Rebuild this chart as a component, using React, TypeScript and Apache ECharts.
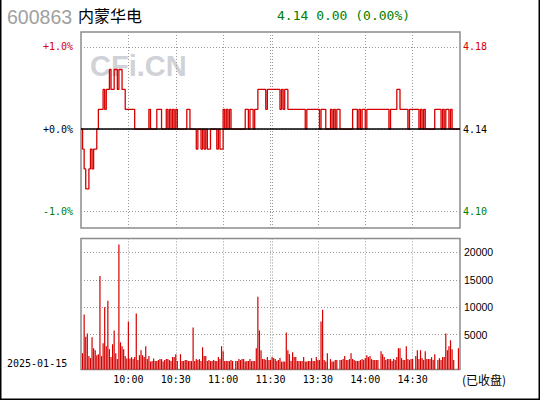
import React, { useEffect, useRef } from "react";
import * as echarts from "echarts";

const stockCode = "600863";
const stockName = "内蒙华电";
const tradeDate = "2025-01-15";
const statusText = "(已收盘)";
const watermarkText = "CFi.CN";
const prevClose = 4.14;
const lastPrice = 4.14;
const priceChange = 0.0;
const changePct = 0.0;

const pctTicks = [-1, 0, 1];
const volumeTicks = [5000, 10000, 15000, 20000];
const timeTickLabels = ["10:00", "10:30", "11:00", "11:30", "13:30", "14:00", "14:30"];

// one price per minute, 9:30-11:30 then 13:01-15:00
const prices = [
  4.14, 4.13, 4.12, 4.11, 4.11, 4.12, 4.13, 4.12, 4.13, 4.13,
  4.14, 4.15, 4.15, 4.15, 4.16, 4.15, 4.16, 4.16, 4.17, 4.16,
  4.16, 4.17, 4.17, 4.16, 4.17, 4.17, 4.16, 4.16, 4.15, 4.15,
  4.15, 4.15, 4.15, 4.15, 4.14, 4.14, 4.14, 4.14, 4.14, 4.14,
  4.14, 4.14, 4.14, 4.15, 4.14, 4.14, 4.14, 4.14, 4.15, 4.15,
  4.15, 4.14, 4.14, 4.14, 4.15, 4.14, 4.15, 4.14, 4.15, 4.14,
  4.15, 4.14, 4.14, 4.14, 4.14, 4.14, 4.14, 4.15, 4.15, 4.14,
  4.14, 4.14, 4.14, 4.13, 4.14, 4.14, 4.13, 4.14, 4.13, 4.14,
  4.13, 4.13, 4.14, 4.14, 4.14, 4.14, 4.13, 4.14, 4.13, 4.13,
  4.15, 4.14, 4.15, 4.14, 4.15, 4.14, 4.14, 4.14, 4.14, 4.14,
  4.14, 4.14, 4.14, 4.14, 4.15, 4.15, 4.14, 4.15, 4.15, 4.14,
  4.15, 4.15, 4.16, 4.16, 4.16, 4.16, 4.16, 4.15, 4.16, 4.16,
  4.16, 4.16, 4.16, 4.16, 4.16, 4.16, 4.15, 4.16, 4.15, 4.16,
  4.16, 4.15, 4.15, 4.15, 4.15, 4.15, 4.15, 4.15, 4.15, 4.15,
  4.15, 4.15, 4.14, 4.15, 4.15, 4.15, 4.15, 4.15, 4.15, 4.15,
  4.15, 4.14, 4.15, 4.15, 4.15, 4.14, 4.14, 4.14, 4.15, 4.14,
  4.15, 4.14, 4.15, 4.15, 4.14, 4.14, 4.14, 4.14, 4.14, 4.14,
  4.14, 4.14, 4.15, 4.15, 4.15, 4.14, 4.15, 4.14, 4.15, 4.15,
  4.14, 4.15, 4.15, 4.15, 4.15, 4.15, 4.15, 4.15, 4.15, 4.15,
  4.15, 4.15, 4.15, 4.15, 4.15, 4.14, 4.15, 4.15, 4.15, 4.15,
  4.16, 4.16, 4.15, 4.15, 4.15, 4.15, 4.15, 4.14, 4.15, 4.15,
  4.15, 4.15, 4.15, 4.15, 4.14, 4.15, 4.14, 4.15, 4.14, 4.14,
  4.14, 4.14, 4.14, 4.14, 4.15, 4.15, 4.15, 4.15, 4.14, 4.15,
  4.14, 4.15, 4.15, 4.14, 4.15, 4.14, 4.14, 4.14, 4.14, 4.14,
  4.14,
];

const volumes: (number | null)[] = [
  null, 1640, 8660, 4640, 5240, 1100, 740, 4520, 2540, 2180,
  1280, 1460, 15680, 1100, 3440, 9980, 2900, 11180, 2360, 920,
  3260, 5780, 1640, 560, 21440, 3620, 2900, 2360, 1100, 680,
  7400, 680, 920, 560, 920, 8840, 380, 1280, 2180, 1280,
  920, 2900, 560, 1100, 100, 200, 680, 200, 200, 380,
  560, 560, 100, 380, 560, 560, 380, 200, 920, 920,
  1460, 200, null, 1460, 200, 200, 380, 380, 200, 200,
  200, 6320, 200, 560, 380, 560, 200, 2720, 1100, 1100,
  200, 380, 200, 200, 380, 200, 200, 920, 560, 2900,
  2000, 200, 200, 200, 200, 380, 200, null, 200, 200,
  560, 380, 560, 560, 100, 200, 200, 560, 200, 200,
  200, 2540, 11900, 5780, 2180, 560, 560, 380, 920, 380,
  380, 920, 740, 560, 200, 380, 740, 100, 100, 100,
  5420, 2180, 1460, 200, 1820, 920, 920, 200, 200, 200,
  200, 920, 100, 100, 200, 200, 740, 200, 200, 920,
  380, 380, 7400, 9560, 380, 100, 1640, null, 560, 100,
  100, 380, 380, null, 380, 380, 560, 1100, 380, 380,
  560, 1640, 560, 380, 200, 200, 200, 380, 560, 380,
  740, 1280, 920, 1100, 560, 380, 380, 380, 380, null,
  2000, 1460, 920, 380, 560, 560, 560, 200, 560, 380,
  920, 2540, 2540, 740, 380, 380, 2900, 560, 380, 560,
  560, null, 1100, 2180, 560, 2180, 740, 380, 2000, 560,
  560, 560, 920, 380, 1460, null, 380, 740, 380, 920,
  920, 5240, 2180, 2900, 3980, 2360, 380, null, null, 2540,
  null,
];

function buildTimes(): string[] {
  const out: string[] = [];
  const add = (t: number) => out.push(`${Math.floor(t / 60)}:${String(t % 60).padStart(2, "0")}`);
  for (let t = 9 * 60 + 30; t <= 11 * 60 + 30; t++) add(t);
  for (let t = 13 * 60 + 1; t <= 15 * 60; t++) add(t);
  return out;
}

const RED = "#d40000";
const GREEN = "#008000";
const GRID_LINE = { color: "#9a9a9a", width: 1, type: [1, 2] as number[] };
const MONO = '"DejaVu Sans Mono", "Liberation Mono", monospace';

export default function App() {
  const ref = useRef<HTMLDivElement>(null);

  useEffect(() => {
    document.body.style.margin = "0";
    if (!ref.current) return;
    const chart = echarts.init(ref.current, undefined, { renderer: "svg" });
    const times = buildTimes();
    const pctMin = -1.2;
    const pctMax = 1.18;
    const labelSet = new Set(timeTickLabels);
    const splitFn = (_i: number, v: string) => labelSet.has(v) || v === "13:01";
    const labelFn = (_i: number, v: string) => labelSet.has(v);
    const pctColor = (v: any) => {
      const n = Number(v);
      return n > 0 ? RED : n < 0 ? GREEN : "#000";
    };
    const volumeData = volumes
      .map((v, i) => (v == null ? null : [i, v]))
      .filter((d) => d !== null);

    const option: any = {
      animation: false,
      backgroundColor: "#ffffff",
      grid: [
        { left: 81, right: 80, top: 32, height: 196, show: true, borderColor: "#8c8c8c", borderWidth: 1.5 },
        { left: 81, right: 80, top: 238.5, height: 131, show: true, borderColor: "#8c8c8c", borderWidth: 1.5 },
      ],
      xAxis: [
        {
          type: "category", gridIndex: 0, data: times, boundaryGap: false,
          axisLine: { show: false }, axisTick: { show: false }, axisLabel: { show: false },
          splitLine: { show: true, interval: splitFn, lineStyle: GRID_LINE },
        },
        {
          type: "category", gridIndex: 1, data: times, boundaryGap: false,
          axisLine: { show: false }, axisTick: { show: false },
          axisLabel: { show: true, interval: labelFn, fontFamily: MONO, fontSize: 10, color: "#000", margin: 5 },
          splitLine: { show: true, interval: splitFn, lineStyle: GRID_LINE },
        },
      ],
      yAxis: [
        {
          type: "value", gridIndex: 0, position: "left", min: pctMin, max: pctMax,
          axisLine: { show: false }, axisTick: { show: false, customValues: pctTicks },
          axisLabel: {
            customValues: pctTicks, fontFamily: MONO, fontSize: 10, margin: 8, color: pctColor,
            formatter: (v: number) => (v >= 0 ? "+" : "") + v.toFixed(1) + "%",
          },
          splitLine: { show: true, lineStyle: GRID_LINE },
        },
        {
          type: "value", gridIndex: 0, position: "right", min: pctMin, max: pctMax,
          axisLine: { show: false }, axisTick: { show: false, customValues: pctTicks },
          axisLabel: {
            customValues: pctTicks, fontFamily: MONO, fontSize: 10, margin: 3, color: pctColor,
            formatter: (v: number) => (prevClose * (1 + v / 100)).toFixed(2),
          },
          splitLine: { show: false },
        },
        {
          type: "value", gridIndex: 0, show: false,
          min: prevClose * (1 + pctMin / 100), max: prevClose * (1 + pctMax / 100),
          splitLine: { show: false },
        },
        {
          type: "value", gridIndex: 1, position: "right", min: -1335, max: 22510,
          axisLine: { show: false }, axisTick: { show: false, customValues: volumeTicks },
          axisLabel: {
            customValues: volumeTicks, fontFamily: '"Liberation Sans", Arial, sans-serif', fontSize: 10.5,
            color: "#000", margin: 4, formatter: (v: number) => String(v),
          },
          splitLine: { show: true, lineStyle: GRID_LINE },
        },
      ],
      series: [
        {
          type: "line", xAxisIndex: 0, yAxisIndex: 2, data: prices, step: "end",
          symbol: "none", lineStyle: { color: RED, width: 1.3 },
          markLine: {
            silent: true, symbol: "none", label: { show: false },
            lineStyle: { color: "#000", width: 1.5, type: "solid" },
            data: [{ yAxis: prevClose }],
          },
        },
        {
          type: "custom", xAxisIndex: 1, yAxisIndex: 3, data: volumeData,
          encode: { x: 0, y: 1 },
          renderItem: (params: any, api: any) => {
            const top = api.coord([api.value(0), api.value(1)]);
            const cs = params.coordSys;
            const bottom = cs.y + cs.height;
            return {
              type: "rect",
              shape: { x: top[0] - 0.6, y: top[1], width: 1.2, height: bottom - top[1] },
              style: { fill: RED },
            };
          },
        },
      ],
      graphic: [
        {
          type: "text", x: 90, y: 66, z: 0,
          style: { text: watermarkText, font: 'bold 29px "Liberation Sans", Arial, sans-serif', fill: "#cfd2d6", verticalAlign: "middle" },
        },
        {
          type: "text", x: 7, y: 16.5,
          style: { text: stockCode, font: '19.5px "Liberation Sans", Arial, sans-serif', fill: "#a0a0a0", verticalAlign: "middle" },
        },
        {
          type: "text", x: 78, y: 15,
          style: { text: stockName, font: '16px "Noto Sans CJK SC", sans-serif', fill: "#000", verticalAlign: "middle" },
        },
        {
          type: "text", x: 277, y: 15,
          style: {
            text: `${lastPrice.toFixed(2)} ${priceChange.toFixed(2)} (${changePct.toFixed(2)}%)`,
            font: `13px ${MONO}`, fill: GREEN, verticalAlign: "middle",
          },
        },
        {
          type: "text", x: 7, y: 363,
          style: { text: tradeDate, font: `10px ${MONO}`, fill: "#000", verticalAlign: "middle" },
        },
        {
          type: "text", x: 462, y: 379,
          style: { text: statusText, font: '12px "Noto Sans CJK SC", sans-serif', fill: "#000", verticalAlign: "middle" },
        },
        {
          type: "polyline",
          shape: { points: [[0.75, 0], [0.75, 399.25], [539.25, 399.25], [539.25, 0]] },
          style: { stroke: "#000", lineWidth: 1.5, fill: null },
        },
      ],
    };
    chart.setOption(option);
    return () => chart.dispose();
  }, []);

  return <div ref={ref} style={{ width: 540, height: 400 }} />;
}
